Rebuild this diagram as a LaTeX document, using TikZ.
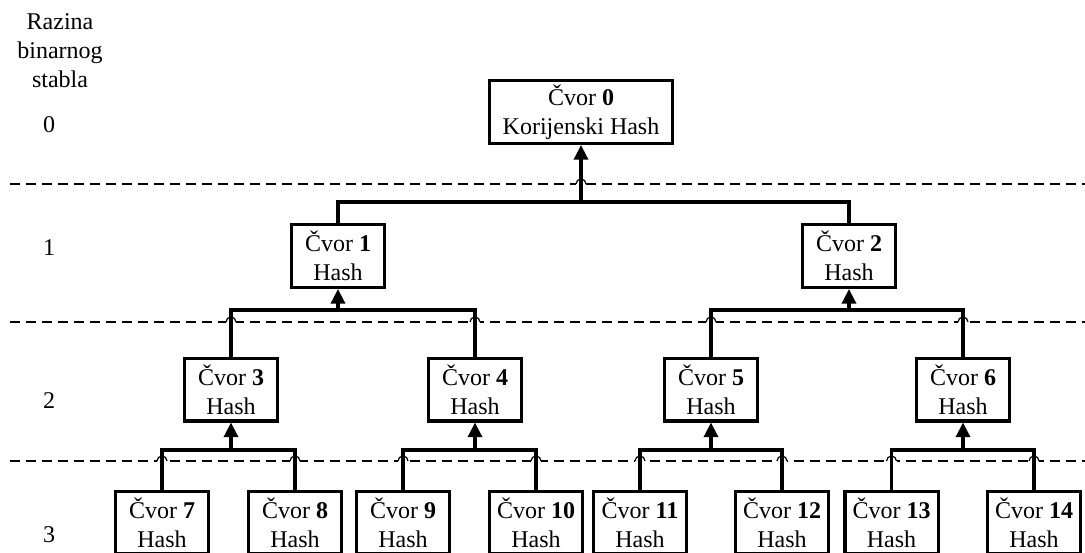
\documentclass[tikz,border=0pt]{standalone}
\usepackage{fontspec}
\setmainfont{Liberation Serif}
\usetikzlibrary{arrows.meta}
\begin{document}
\begin{tikzpicture}[x=0.75pt,y=-0.75pt,
  box/.style={draw,line width=2.5pt,align=center,inner sep=0pt,minimum width=70pt,minimum height=47pt,font=\fontsize{18}{21.5}\selectfont},
  conn/.style={line width=2.5pt},
  arr/.style={line width=2.5pt,-{Triangle[length=11pt,width=10.5pt]}},
  level/.style={dash pattern=on 7.5pt off 4.5pt,line width=0.9pt},
  eraser/.style={white,line width=2pt},
  jump/.style={line width=0.9pt},
  lbl/.style={font=\fontsize{18}{21.8}\selectfont,inner sep=0pt}]
\clip (0,0) rectangle (1085,553);
% level separators
\draw[level] (10,184) -- (1085,184);
\draw[level] (10,322) -- (1085,322);
\draw[level] (10,461) -- (1085,461);
% labels
\node[lbl,align=center,anchor=north] (title) at (60,13) {Razina\\binarnog\\stabla};
\node[lbl,anchor=base] (l0) at (49,132) {0};
\node[lbl,anchor=base] (l1) at (49,255) {1};
\node[lbl,anchor=base] (l2) at (49,408) {2};
\node[lbl,anchor=base] (l3) at (49,542) {3};
% nodes
\node[box,minimum width=137pt] (n0) at (581,112) {Čvor \textbf{0}\\Korijenski Hash};
\node[box] (n1) at (338,256) {Čvor \textbf{1}\\Hash};
\node[box] (n2) at (849,256) {Čvor \textbf{2}\\Hash};
\node[box] (n3) at (231,389.5) {Čvor \textbf{3}\\Hash};
\node[box] (n4) at (475,389.5) {Čvor \textbf{4}\\Hash};
\node[box] (n5) at (711,389.5) {Čvor \textbf{5}\\Hash};
\node[box] (n6) at (963,389.5) {Čvor \textbf{6}\\Hash};
\node[box] (n7) at (162,522.5) {Čvor \textbf{7}\\Hash};
\node[box] (n8) at (295,522.5) {Čvor \textbf{8}\\Hash};
\node[box] (n9) at (403,522.5) {Čvor \textbf{9}\\Hash};
\node[box] (n10) at (536,522.5) {Čvor \textbf{10}\\Hash};
\node[box] (n11) at (640,522.5) {Čvor \textbf{11}\\Hash};
\node[box] (n12) at (782,522.5) {Čvor \textbf{12}\\Hash};
\node[box] (n13) at (891.5,522.5) {Čvor \textbf{13}\\Hash};
\node[box] (n14) at (1034,522.5) {Čvor \textbf{14}\\Hash};
% erase dashed line where connectors jump over
\draw[eraser] (n0.south |- 0,184) ++(-5,0) -- ++(10,0);
\foreach \n in {n3,n4,n5,n6} {\draw[eraser] (\n.north |- 0,322) ++(-5,0) -- ++(10,0);}
\foreach \n in {n7,n8,n9,n10,n11,n12,n13,n14} {\draw[eraser] (\n.north |- 0,461) ++(-5,0) -- ++(10,0);}
% connectors
\coordinate (j0) at (n0.south |- 0,202);
\draw[conn] (n1.north) |- (j0) -| (n2.north);
\draw[arr] (j0) -- (n0.south);
\coordinate (j1) at (n1.south |- 0,310);
\draw[conn] (n3.north) |- (j1) -| (n4.north);
\draw[arr] (j1) -- (n1.south);
\coordinate (j2) at (n2.south |- 0,310);
\draw[conn] (n5.north) |- (j2) -| (n6.north);
\draw[arr] (j2) -- (n2.south);
\coordinate (j3) at (n3.south |- 0,450);
\draw[conn] (n7.north) |- (j3) -| (n8.north);
\draw[arr] (j3) -- (n3.south);
\coordinate (j4) at (n4.south |- 0,450);
\draw[conn] (n9.north) |- (j4) -| (n10.north);
\draw[arr] (j4) -- (n4.south);
\coordinate (j5) at (n5.south |- 0,450);
\draw[conn] (n11.north) |- (j5) -| (n12.north);
\draw[arr] (j5) -- (n5.south);
\coordinate (j6) at (n6.south |- 0,450);
\draw[conn] (n13.north) |- (j6) -| (n14.north);
\draw[arr] (j6) -- (n6.south);
% jumps
\draw[jump] (n0.south |- 0,184) ++(-5,0) arc[start angle=180,end angle=360,radius=5];
\foreach \n in {n3,n4,n5,n6} {\draw[jump] (\n.north |- 0,322) ++(-5,0) arc[start angle=180,end angle=360,radius=5];}
\foreach \n in {n7,n8,n9,n10,n11,n12,n13,n14} {\draw[jump] (\n.north |- 0,461) ++(-5,0) arc[start angle=180,end angle=360,radius=5];}
\end{tikzpicture}
\end{document}
